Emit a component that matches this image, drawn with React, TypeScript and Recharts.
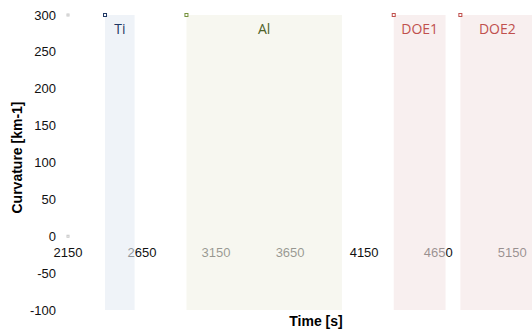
import {
  ComposedChart,
  ReferenceArea,
  ReferenceDot,
  XAxis,
  YAxis,
} from "recharts";

const regionNames = ["Ti", "Al", "DOE1", "DOE2"];
const regionStarts = [2400, 2950, 4350, 4800];
const regionEnds = [2600, 4000, 4700, 5300];
const regionFills = ["#e5ebf4", "#f1f2e6", "#f4e5e5", "#f4e5e5"];
const regionText = ["#1f3864", "#4f6228", "#c0504d", "#c0504d"];
const regionMarks = ["#1f3864", "#76923c", "#c0504d", "#c0504d"];

const xTicks = [2150, 2650, 3150, 3650, 4150, 4650, 5150];
const yTicks = [-100, -50, 0, 50, 100, 150, 200, 250, 300];
const xDomain = [2150, 5500];
const yDomain = [-100, 300];

const leftMarkY = [300, 0];

const tickFont = "'Liberation Sans', Arial, sans-serif";

const squareMark = (color: string, size: number) => (props: any) => {
  const { cx, cy } = props;
  return (
    <rect
      x={cx - size / 2}
      y={cy - size / 2}
      width={size}
      height={size}
      fill="#fff"
      stroke={color}
      strokeWidth={1}
    />
  );
};

export default function App() {
  return (
    <div
      style={{
        position: "absolute",
        left: 0,
        top: 0,
        width: 532,
        height: 330,
        overflow: "hidden",
        background: "#fff",
      }}
    >
      <ComposedChart
        width={600}
        height={330}
        data={[]}
        margin={{ top: 15, right: 36, bottom: 0, left: 0 }}
      >
        <XAxis
          type="number"
          dataKey="t"
          domain={xDomain}
          allowDataOverflow
          height={20}
          tick={false}
          tickLine={false}
          axisLine={false}
          label={{
            value: "Time [s]",
            position: "insideBottom",
            offset: 4,
            style: {
              fontFamily: tickFont,
              fontSize: 14,
              fontWeight: "bold",
              fill: "#000",
            },
          }}
        />
        <YAxis
          type="number"
          domain={yDomain}
          ticks={yTicks}
          allowDataOverflow
          width={68}
          tickLine={false}
          axisLine={false}
          tickMargin={6}
          tick={{ fontFamily: tickFont, fontSize: 13, fill: "#111" }}
          label={{
            value: "Curvature [km-1]",
            angle: -90,
            position: "insideLeft",
            offset: 17,
            dy: -5,
            style: {
              textAnchor: "middle",
              fontFamily: tickFont,
              fontSize: 14,
              fontWeight: "bold",
              fill: "#000",
            },
          }}
        />

        {xTicks.map((t) => (
          <ReferenceDot
            key={"tick" + t}
            x={t}
            y={0}
            r={0}
            fill="none"
            stroke="none"
            zIndex={50}
            label={{
              value: String(t),
              position: "bottom",
              offset: 12,
              zIndex: 50,
              style: { fontFamily: tickFont, fontSize: 13, fill: "#111" },
            }}
          />
        ))}

        {regionNames.map((name, i) => (
          <ReferenceArea
            key={name}
            x1={regionStarts[i]}
            x2={regionEnds[i]}
            y1={yDomain[0]}
            y2={yDomain[1]}
            fill={regionFills[i]}
            fillOpacity={0.6}
            stroke="none"
            zIndex={3000}
            label={{
              value: name,
              position: "insideTop",
              offset: 9,
              zIndex: 3100,
              style: { fontFamily: "'Open Sans', sans-serif", fontSize: 14, fill: regionText[i] },
            }}
          />
        ))}

        {regionNames.map((name, i) => (
          <ReferenceDot
            key={"mark" + name}
            x={regionStarts[i]}
            y={yDomain[1]}
            r={2}
            zIndex={3200}
            shape={squareMark(regionMarks[i], 3)}
          />
        ))}

        {leftMarkY.map((y) => (
          <ReferenceDot
            key={"left" + y}
            x={xDomain[0]}
            y={y}
            r={1}
            shape={squareMark("#c8c8c8", 2)}
          />
        ))}
      </ComposedChart>
    </div>
  );
}
